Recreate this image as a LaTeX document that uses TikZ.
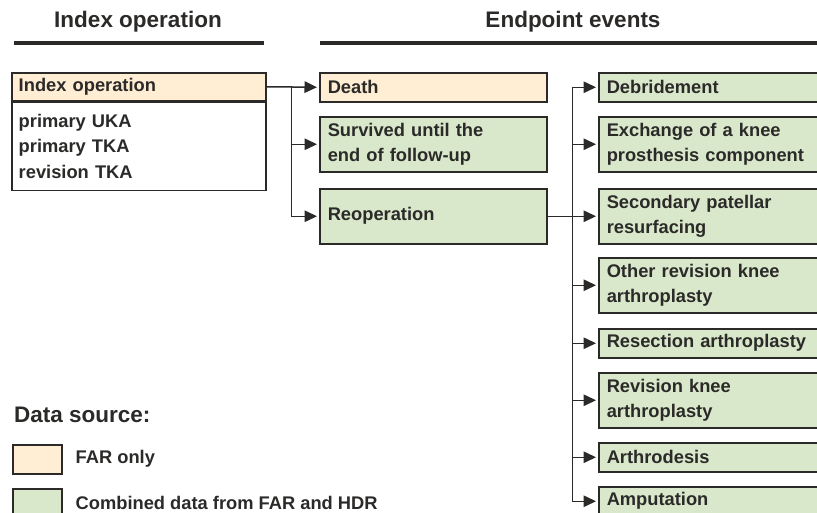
\documentclass[tikz,border=0pt]{standalone}
\usepackage{fontspec}
\setmainfont{Liberation Sans}
\usetikzlibrary{positioning}
\usetikzlibrary{arrows.meta}
\definecolor{farcol}{HTML}{FFEED4}
\definecolor{combcol}{HTML}{D9E8CA}
\definecolor{inkcol}{HTML}{2B2A29}
\tikzset{
	evbox/.style={draw=inkcol, line width=1.5pt, rectangle, anchor=north west, align=left,
		inner xsep=8pt, inner ysep=0pt, text=inkcol, font=\fontsize{18.3}{25.5}\selectfont\bfseries},
	farbox/.style={evbox, fill=farcol},
	combbox/.style={evbox, fill=combcol},
	midcol/.style={text width=211pt, minimum height=29pt},
	rgtcol/.style={text width=224pt, minimum height=29pt},
	twoline/.style={minimum height=55pt},
	hdr/.style={text=inkcol, inner sep=0pt, font=\fontsize{22.5}{26}\selectfont\bfseries},
	legtext/.style={text=inkcol, inner sep=0pt, font=\fontsize{18.3}{25}\selectfont\bfseries},
	arr/.style={draw=inkcol, line width=1.5pt, -{Triangle[length=12.5pt,width=11.5pt]}, shorten >=2pt},
}
\begin{document}
\begin{tikzpicture}[x=1pt, y=-1pt]
		\useasboundingbox (0,0) rectangle (817,512);
		% column headings
		\node[hdr] (idxtitle) at (138,22) {Index operation};
		\node[hdr] (endtitle) at (573,22) {Endpoint events};
		\draw[inkcol, line width=4.5pt] (14,43) -- (264,43);
		\draw[inkcol, line width=4.5pt] (320,43) -- (817,43);
		% index operation
		\node[farbox, text width=240pt, inner xsep=7pt, minimum height=28pt] (idxhead) at (11,72) {Index operation};
		\node[evbox, fill=white, text width=240pt, inner xsep=7pt, minimum height=88pt, below = 0pt of idxhead] (idxbody) {primary UKA\\primary TKA\\revision TKA};
		% first endpoints
		\node[farbox, midcol] (death) at (319,72) {Death};
		\node[combbox, midcol, twoline, below = 13.5pt of death] (surv) {Survived until the\\end of follow-up};
		\node[combbox, midcol, twoline, below = 15.5pt of surv] (reop) {Reoperation};
		% reoperation types
		\node[combbox, rgtcol] (debr) at (598,72) {Debridement};
		\node[combbox, rgtcol, twoline, below = 13.5pt of debr] (exch) {Exchange of a knee\\prosthesis component};
		\node[combbox, rgtcol, twoline, below = 15.5pt of exch] (secp) {Secondary patellar\\resurfacing};
		\node[combbox, rgtcol, twoline, below = 12.5pt of secp] (othr) {Other revision knee\\arthroplasty};
		\node[combbox, rgtcol, below = 14.5pt of othr] (resa) {Resection arthroplasty};
		\node[combbox, rgtcol, twoline, below = 13.5pt of resa] (revk) {Revision knee\\arthroplasty};
		\node[combbox, rgtcol, below = 13.5pt of revk] (arth) {Arthrodesis};
		\node[combbox, rgtcol, below = 13.5pt of arth] (ampu) {Amputation};
		% connectors
		\draw[arr] (idxhead.east) -- (death.west);
		\path (idxhead.east) ++(25pt,0) coordinate (split1);
		\foreach \n in {surv,reop}
			\draw[arr] (split1) |- (\n.west);
		\draw[inkcol, line width=1.5pt] (reop.east) -- ++(25pt,0) coordinate (split2);
		\foreach \n in {debr,exch,secp,othr,resa,revk,arth,ampu}
			\draw[arr] (split2) |- (\n.west);
		% legend
		\node[hdr, anchor=west] (srctitle) at (14,415) {Data source:};
		\node[farbox, minimum width=49pt, minimum height=29pt, inner xsep=0pt] (keyfar) at (12,444) {};
		\node[legtext, right = 13pt of keyfar] (keyfartxt) {FAR only};
		\node[combbox, minimum width=49pt, minimum height=29pt, inner xsep=0pt] (keycomb) at (12,488) {};
		\node[legtext, right = 13pt of keycomb] (keycombtxt) {Combined data from FAR and HDR};
	\end{tikzpicture}
\end{document}
